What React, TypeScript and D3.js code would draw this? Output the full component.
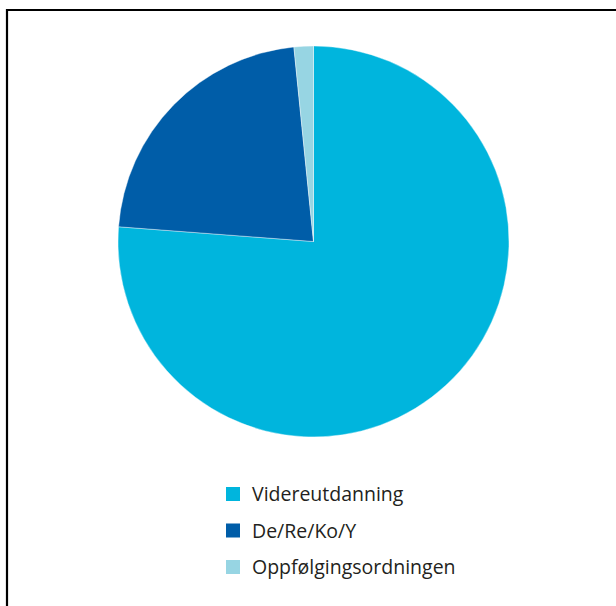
import React from "react";
import * as d3 from "d3";

// Share of participants per programme (percent)
const categories = ["Videreutdanning", "De/Re/Ko/Y", "Oppfølgingsordningen"];
const shares = [76.2, 22.2, 1.6];
const colors = ["#00b5dd", "#005da8", "#97d5e3"];

const W = 616;
const H = 606;
const cx = 313.5;
const cy = 241.5;
const radius = 195.5;

export default function App() {
  const data = categories.map((c, i) => ({ name: c, value: shares[i], color: colors[i] }));
  const pie = d3.pie<typeof data[number]>().sort(null).value((d) => d.value);
  const arc = d3.arc<d3.PieArcDatum<typeof data[number]>>().innerRadius(0).outerRadius(radius);
  const arcs = pie(data);

  const legendX = 226;
  const legendY = 487;
  const legendStep = 36.5;
  const sq = 14;

  return (
    <svg
      width={W}
      height={H}
      style={{ position: "absolute", left: 0, top: 0, background: "#fff" }}
    >
      <rect x={0} y={0} width={W} height={H} fill="#fff" />
      {/* frame */}
      <path d={`M7,${H} V10 H${W}`} fill="none" stroke="#000" strokeWidth={2.2} />
      <g transform={`translate(${cx},${cy})`}>
        {arcs.map((a, i) => (
          <path key={i} d={arc(a) ?? ""} fill={a.data.color} stroke="#ffffff" strokeWidth={0.4} />
        ))}
      </g>
      <g fontFamily="'Open Sans', 'Noto Sans', sans-serif" fontSize={19.5} fill="#231f20">
        {data.map((d, i) => (
          <g key={d.name} transform={`translate(${legendX},${legendY + i * legendStep})`}>
            <rect x={0} y={0} width={sq} height={sq} fill={d.color} />
            <text x={26} y={sq / 2} dy="0.36em">
              {d.name}
            </text>
          </g>
        ))}
      </g>
    </svg>
  );
}
